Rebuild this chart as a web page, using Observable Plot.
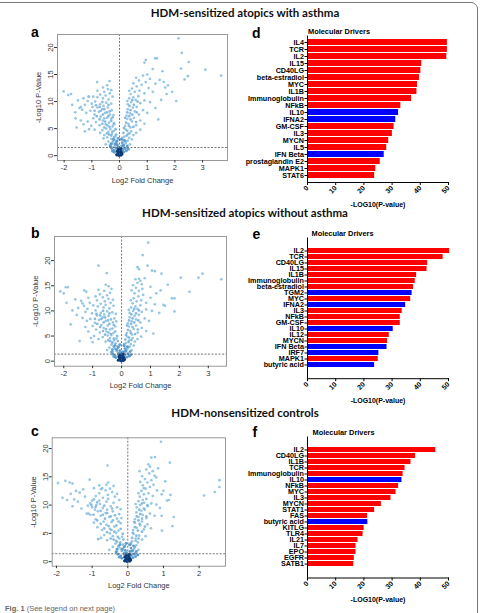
<!DOCTYPE html>
<html><head><meta charset="utf-8">
<script src="https://cdn.jsdelivr.net/npm/d3@7"></script>
<script src="https://cdn.jsdelivr.net/npm/@observablehq/plot@0.6"></script>
<style>
body{margin:0;background:#fff;}
#root{position:relative;width:482px;height:613px;overflow:hidden;background:#fff;font-family:"Liberation Sans",Arial,sans-serif;}
.box{position:absolute;left:-6px;top:2px;width:482px;height:700px;border:1px solid #777;border-radius:7px;}
.head{position:absolute;left:0;width:490px;text-align:center;font-family:Lato,"Open Sans",sans-serif;font-weight:700;font-size:11.5px;line-height:14px;color:#111;}
.let{position:absolute;font-weight:700;font-size:14px;line-height:14px;color:#000;}
.md{position:absolute;font-weight:700;font-size:7.4px;line-height:9px;color:#000;}
.pl{position:absolute;}
.cap{position:absolute;left:5px;top:604px;font-size:7.5px;line-height:9px;color:#666;}
</style></head>
<body><div id="root">
<div class="box"></div>
<div class="head" style="top:6px">HDM-sensitized atopics with asthma</div>
<div class="head" style="top:206px">HDM-sensitized atopics without asthma</div>
<div class="head" style="top:406px">HDM-nonsensitized controls</div>
<div class="let" style="left:31px;top:25px">a</div>
<div class="let" style="left:31px;top:226px">b</div>
<div class="let" style="left:31px;top:424px">c</div>
<div class="let" style="left:252px;top:26px">d</div>
<div class="let" style="left:252.5px;top:227px">e</div>
<div class="let" style="left:252.5px;top:425px">f</div>
<div class="md" style="left:308px;top:26.5px">Molecular Drivers</div>
<div class="md" style="left:311.5px;top:228.5px">Molecular Drivers</div>
<div class="md" style="left:312.5px;top:428px">Molecular Drivers</div>
<div class="cap"><b>Fig. 1</b> (See legend on next page)</div>
</div>
<script>
// ---------- Bar chart data ----------
const dNames = ["IL4","TCR","IL2","IL15","CD40LG","beta-estradiol","MYC","IL1B","Immunoglobulin","NFkB","IL10","IFNA2","GM-CSF","IL3","MYCN","IL5","IFN Beta","prostaglandin E2","MAPK1","STAT6"];
const dValues = [49.6,49.6,49.4,40.5,40.2,39.7,39.0,38.8,36.9,33.1,32.3,31.3,30.7,30.1,28.8,28.1,27.2,25.8,24.2,23.8];
const dBlue = ["IL10","IFNA2","IFN Beta"];

const eNames = ["IL2","TCR","CD40LG","IL15","IL1B","Immunoglobulin","beta-estradiol","TGM2","MYC","IFNA2","IL3","NFkB","GM-CSF","IL10","IL12","MYCN","IFN Beta","IRF7","MAPK1","butyric acid"];
const eValues = [50.4,48.1,42.6,42.4,38.7,38.2,37.6,37.1,36.6,34.8,33.6,32.9,32.9,30.4,29.0,28.4,28.2,25.3,25.1,23.8];
const eBlue = ["TGM2","IFNA2","IL10","IFN Beta","IRF7","butyric acid"];

const fNames = ["IL2","CD40LG","IL1B","TCR","Immunoglobulin","IL10","NFkB","MYC","IL3","MYCN","STAT1","FAS","butyric acid","KITLG","TLR4","IL21","IL7","EPO","EGFR","SATB1"];
const fValues = [45.5,38.3,36.7,34.6,33.9,33.5,32.3,31.4,29.6,26.2,23.8,21.3,21.4,20.1,19.7,17.9,17.2,17.2,16.6,16.4];
const fBlue = ["IL10","butyric acid"];

const barTicks = [0,10,20,30,40,50];

// ---------- Volcano data [log2FC, -log10 p] ----------
const aLight = [
[-0.32,1.8],[-0.25,2.2],[-0.4,2.6],[-0.18,2.9],[-0.3,3.1],[-0.5,2.1],[-0.22,1.6],[-0.45,3.4],[-0.12,2.4],[-0.35,2.0],
[-0.55,3.8],[-0.28,4.0],[-0.4,4.4],[-0.62,4.7],[-0.2,4.6],[-0.48,5.0],[-0.15,3.6],[-0.7,4.2],[-0.33,4.9],[-0.9,4.8],[-1.1,4.9],[-0.58,3.2],
[-0.25,5.4],[-0.5,5.8],[-0.72,5.6],[-0.38,6.1],[-0.6,6.5],[-0.85,6.2],[-0.3,6.8],[-0.45,7.0],[-0.95,6.9],[-1.15,6.3],[-0.2,6.0],[-0.68,7.2],[-1.3,5.8],[-1.02,5.5],[-0.55,6.9],
[-0.35,7.6],[-0.52,7.9],[-0.75,8.1],[-0.9,7.6],[-0.28,8.4],[-0.62,8.6],[-1.05,8.3],[-0.42,8.9],[-0.8,8.9],[-1.2,7.9],[-1.35,8.5],[-0.22,7.5],[-0.98,9.0],[-0.58,9.2],
[-0.3,9.6],[-0.48,9.8],[-0.7,9.5],[-0.88,10.0],[-1.0,9.6],[-0.4,10.4],[-0.6,10.6],[-0.8,10.8],[-1.15,10.1],[-0.25,10.9],[-1.4,9.0],[-0.5,11.1],[-0.95,10.9],[-1.25,9.4],
[-0.35,11.5],[-0.55,11.8],[-0.7,11.3],[-0.42,12.3],[-0.6,12.6],[-0.3,12.1],[-0.8,12.0],[-1.1,10.9],[-0.81,13.6],[-0.36,13.8],[-0.45,13.0],
[-2.02,11.9],[-1.85,11.2],[-1.75,11.4],[-1.71,9.4],[-1.59,6.9],[-1.45,8.8],[-1.6,8.0],[-1.5,10.2],[-1.3,10.6],[-1.12,10.9],[-1.55,5.2],[-1.25,4.5],[-1.4,6.5],
[0.15,1.7],[0.22,2.3],[0.3,2.8],[0.12,2.9],[0.38,2.1],[0.25,1.5],[0.45,3.0],
[0.18,3.5],[0.3,4.0],[0.42,4.5],[0.22,4.8],[0.5,3.8],[0.6,4.2],[0.35,3.3],[0.75,4.8],
[0.2,5.5],[0.32,5.9],[0.45,6.3],[0.6,5.6],[0.28,6.8],[0.75,6.5],[0.52,7.0],[0.9,5.9],[0.4,5.2],
[0.25,7.4],[0.38,7.8],[0.55,8.2],[0.7,7.6],[0.3,8.6],[0.85,8.4],[0.48,8.9],[1.0,7.9],[0.62,9.0],
[0.3,9.5],[0.42,9.9],[0.58,10.3],[0.75,9.7],[0.35,10.6],[0.9,10.2],[0.5,10.8],[1.1,9.9],[0.68,11.0],[0.28,10.1],
[0.4,11.4],[0.55,11.8],[0.72,12.0],[0.9,11.5],[0.45,12.4],[1.05,12.5],[0.62,12.8],[0.35,12.0],[1.2,11.8],[0.8,13.1],
[0.5,13.4],[0.7,13.9],[0.95,13.6],[1.1,14.2],[0.6,14.4],[1.3,13.3],[0.85,14.8],[1.45,14.0],[1.0,15.0],[1.6,13.6],[1.75,13.0],
[0.9,17.2],[0.95,17.7],[1.29,18.0],[1.35,18.0],[1.55,15.6],[1.2,16.0],[1.9,11.8],[1.7,11.4],[1.4,6.7],[1.5,10.3],[1.3,8.8],[1.65,12.6],
[2.13,21.7],[2.25,19.0],[2.5,17.3],[2.22,16.1],[3.1,15.9],[3.67,14.8],[2.35,14.1],[2.47,14.7],[2.05,10.1]
];
const aDense = [
[-0.1,1.2],[-0.16,1.9],[-0.24,2.6],[-0.08,2.8],[-0.2,3.4],[-0.3,3.7],[-0.12,3.9],[-0.38,3.9],[-0.26,4.4],[-0.45,4.1],[-0.14,4.9],[-0.36,5.3],[-0.55,5.2],[-0.2,5.8],[-0.44,5.6],[-0.62,5.9],[-0.3,6.4],[-0.52,6.3],[-0.72,6.7],[-0.4,7.3],[-0.6,7.6],[-0.25,7.1],[-0.82,7.3],[-0.45,8.0],[-0.68,8.3],[-0.35,8.2],[-0.55,8.6],[-0.9,8.3],[-0.72,9.0],[-0.4,9.4],[-0.62,9.9],[-0.85,9.3],
[0.1,1.3],[0.16,2.0],[0.24,2.6],[0.1,3.3],[0.26,3.7],[0.14,4.2],[0.36,4.1],[0.28,4.6],[0.16,5.1],[0.34,5.5],[0.5,5.3],[0.24,6.1],[0.4,6.7],[0.6,6.2],[0.2,7.0],[0.35,7.3],[0.46,7.6],[0.62,8.0],[0.28,8.0],[0.4,8.4],[0.52,9.4],[0.36,9.2],[0.65,10.0],[0.46,10.3]
];
const aMid = [[-0.2,1.0],[-0.12,1.4],[-0.28,1.3],[0.12,1.1],[0.2,1.3],[0.08,1.8],[-0.08,2.0],[-0.18,0.6],[0.16,0.7],[-0.1,2.6],[0.1,2.4],[0.05,0.9],[-0.05,1.6],[0.25,0.9],[-0.25,0.8],[0.14,1.9],[-0.15,2.2],[-0.22,3.0],[0.18,2.8],[-0.3,2.2],[0.28,1.8],[-0.05,3.2],[0.06,3.0],[-0.33,1.7],[0.32,1.2]];
const aCore = [[0,0.2],[0.03,0.4],[-0.03,0.5],[0.05,0.1],[-0.06,0.3],[0,0.7],[0.07,0.6],[-0.08,0.8],[0.02,1.0],[-0.02,0.05],[0.09,0.3],[-0.1,0.15],[0.04,1.3],[-0.04,1.1]];

const bLight = [
[-0.3,1.9],[-0.22,2.4],[-0.42,2.7],[-0.15,3.0],[-0.35,3.3],[-0.5,2.2],[-0.12,1.7],[-0.28,2.9],
[-0.55,3.9],[-0.25,4.2],[-0.4,4.6],[-0.65,4.8],[-0.18,4.5],[-0.48,5.1],[-0.8,4.4],[-0.32,3.6],[-0.95,5.0],
[-0.28,5.6],[-0.52,5.9],[-0.75,5.7],[-0.4,6.3],[-0.62,6.6],[-0.88,6.3],[-0.22,6.9],[-0.48,7.1],[-1.0,7.0],[-0.7,7.2],[-1.15,5.9],[-0.35,5.2],
[-0.3,7.7],[-0.55,8.0],[-0.78,8.2],[-0.92,7.6],[-0.25,8.5],[-0.65,8.7],[-1.08,8.4],[-0.45,9.0],[-0.85,9.1],[-1.2,8.0],[-0.18,7.9],[-0.6,9.3],
[-0.32,9.7],[-0.5,9.9],[-0.72,9.6],[-0.9,10.1],[-1.02,9.5],[-0.42,10.5],[-0.62,10.7],[-0.82,10.9],[-1.18,10.4],[-0.28,11.0],[-0.55,11.2],[-0.98,11.1],[-1.25,9.8],[-0.2,9.4],
[-0.38,11.6],[-0.58,11.9],[-0.72,11.4],[-0.45,12.4],[-0.65,12.7],[-0.3,12.2],[-0.85,12.1],[-1.1,11.6],[-0.9,12.9],[-0.5,13.1],[-0.75,13.3],
[-0.4,13.6],[-0.6,14.0],[-0.35,14.4],[-0.55,15.2],[-0.8,14.2],[-0.45,14.9],
[-0.8,19.0],[-0.51,17.5],
[-2.12,13.9],[-2.0,13.5],[-1.93,14.7],[-1.86,14.7],[-1.9,11.6],[-1.76,7.3],[-1.45,4.0],[-1.29,14.1],[-1.22,13.8],[-1.35,11.5],[-1.4,12.0],[-1.3,11.0],[-1.06,4.6],[-1.0,3.8],[-1.6,12.3],[-1.5,10.6],[-1.55,9.2],[-1.35,8.6],[-1.25,6.8],[-1.7,10.1],[-1.15,12.6],
[0.12,1.8],[0.2,2.4],[0.28,2.9],[0.1,3.0],[0.35,2.2],[0.22,1.6],[0.42,3.1],
[0.15,3.6],[0.26,4.1],[0.38,4.6],[0.2,4.9],[0.46,3.9],[0.55,4.4],[0.32,3.4],[0.68,4.9],
[0.18,5.6],[0.3,6.0],[0.42,6.4],[0.56,5.7],[0.25,6.9],[0.7,6.6],[0.5,7.1],[0.85,6.0],[0.36,5.3],
[0.22,7.5],[0.35,7.9],[0.5,8.3],[0.65,7.7],[0.28,8.7],[0.8,8.5],[0.45,9.0],[0.95,8.0],[0.6,9.2],
[0.28,9.6],[0.4,10.0],[0.55,10.4],[0.7,9.8],[0.33,10.7],[0.85,10.3],[0.48,10.9],[1.05,10.0],[0.65,11.1],[0.25,10.2],
[0.38,11.5],[0.52,11.9],[0.68,12.1],[0.85,11.6],[0.42,12.5],[1.0,12.6],[0.58,12.9],[0.32,12.1],[1.15,11.3],[0.75,13.2],
[0.45,13.5],[0.6,14.0],[0.5,14.6],[0.72,14.4],[0.4,15.1],[0.55,15.6],[0.65,16.0],[0.48,16.3],[0.7,15.3],[0.35,14.1],[0.8,16.5],[0.6,16.4],
[0.92,23.6],[0.73,21.1],[0.9,19.0],[1.05,18.0],[1.15,17.9],[1.38,17.4],[0.55,18.7],[0.6,18.3],[1.6,15.2],[1.35,14.1],[1.5,11.0],[1.45,11.2],[1.1,5.5],[1.2,13.5],[1.3,9.6],[1.0,14.8],
[2.05,16.6],[2.66,16.6],[2.8,17.4],[3.45,16.3],[2.35,13.8],[1.74,12.5],[1.83,12.5],[1.83,9.9]
];
const bDense = [
[-0.11,1.3],[-0.17,2.0],[-0.25,2.7],[-0.09,2.9],[-0.21,3.5],[-0.32,3.8],[-0.13,4.0],[-0.4,4.0],[-0.27,4.5],[-0.46,4.2],[-0.15,5.0],[-0.37,5.4],[-0.57,5.3],[-0.22,5.9],[-0.45,5.7],[-0.64,6.0],[-0.32,6.5],[-0.54,6.4],[-0.74,6.8],[-0.42,7.4],[-0.62,7.7],[-0.27,7.2],[-0.84,7.4],[-0.47,8.1],[-0.7,8.4],[-0.37,8.3],[-0.57,8.7],[-0.92,8.4],[-0.74,9.1],[-0.42,9.5],[-0.64,10.0],[-0.87,9.4],
[0.09,1.4],[0.15,2.1],[0.22,2.7],[0.09,3.4],[0.24,3.8],[0.13,4.3],[0.34,4.2],[0.26,4.7],[0.15,5.2],[0.32,5.6],[0.47,5.4],[0.22,6.2],[0.38,6.8],[0.56,6.3],[0.19,7.1],[0.33,7.4],[0.44,7.7],[0.58,8.1],[0.26,8.1],[0.38,8.5],[0.5,9.5],[0.34,9.3],[0.6,10.1],[0.44,10.4]
];
const bMid = [[-0.22,1.1],[-0.1,1.5],[-0.3,1.4],[0.1,1.2],[0.22,1.4],[0.06,1.9],[-0.06,2.1],[-0.2,0.7],[0.18,0.8],[-0.12,2.7],[0.12,2.5],[0.04,1.0],[-0.04,1.7],[0.27,1.0],[-0.27,0.9],[0.15,2.0],[-0.17,2.3],[-0.24,3.1],[0.2,2.9],[-0.32,2.3],[0.3,1.9],[-0.06,3.3],[0.08,3.1],[-0.35,1.8],[0.33,1.3]];
const bCore = [[0,0.3],[0.04,0.5],[-0.04,0.6],[0.06,0.15],[-0.07,0.35],[0,0.8],[0.08,0.7],[-0.09,0.9],[0.02,1.1],[-0.02,0.1],[0.1,0.35],[-0.11,0.2],[0.05,1.4],[-0.05,1.2]];

const cLight = [
[-0.3,1.8],[-0.2,2.3],[-0.42,2.6],[-0.14,3.0],[-0.35,3.2],[-0.52,2.1],[-0.1,1.6],[-0.26,2.8],
[-0.58,3.8],[-0.24,4.1],[-0.42,4.5],[-0.66,4.7],[-0.16,4.4],[-0.5,5.0],[-0.75,4.2],[-0.3,3.5],[-0.83,4.0],
[-0.26,5.5],[-0.5,5.8],[-0.72,5.6],[-0.38,6.2],[-0.6,6.5],[-0.85,6.1],[-0.2,6.8],[-0.46,7.0],[-0.95,6.9],[-0.68,7.1],[-0.33,5.1],
[-0.3,7.6],[-0.52,7.9],[-0.76,8.1],[-0.9,7.5],[-0.24,8.4],[-0.62,8.6],[-1.05,8.3],[-0.42,8.9],[-0.84,8.9],[-1.1,8.5],[-0.18,7.7],[-0.58,9.2],
[-0.3,9.6],[-0.48,9.8],[-0.7,9.5],[-0.88,10.0],[-1.0,9.6],[-0.4,10.4],[-0.6,10.6],[-0.8,10.8],[-1.05,10.3],[-0.24,10.9],[-0.55,11.1],[-0.95,11.0],[-1.12,9.9],[-0.2,9.3],[-0.92,9.2],[-0.78,10.2],[-1.0,10.8],
[-0.36,11.5],[-0.56,11.8],[-0.7,11.3],[-0.44,12.3],[-0.62,12.6],[-0.3,12.0],[-0.8,12.1],[-0.9,11.6],[-0.5,12.9],[-0.72,13.0],
[-0.6,13.6],[-0.75,12.8],[-0.95,13.0],[-0.8,13.5],[-0.4,13.4],[-0.55,14.0],
[-0.57,17.0],
[-1.96,13.9],[-1.75,14.3],[-1.63,14.0],[-1.55,13.8],[-1.07,14.5],[-1.83,11.3],[-1.55,9.8],[-1.4,10.6],[-1.35,12.2],[-1.25,12.8],[-1.6,12.0],[-1.15,8.5],[-0.83,4.0],[-1.5,11.0],[-1.3,9.4],[-1.2,11.5],[-1.45,12.5],[-1.7,10.9],
[0.1,1.8],[0.18,2.3],[0.24,2.9],[0.08,3.0],[0.3,2.1],[0.2,1.5],
[0.12,3.6],[0.22,4.1],[0.32,4.6],[0.16,4.9],[0.4,3.9],[0.28,3.4],[0.5,4.5],
[0.15,5.6],[0.25,6.0],[0.35,6.4],[0.45,5.7],[0.2,6.9],[0.55,6.6],[0.4,7.1],[0.65,5.9],
[0.2,7.5],[0.3,7.9],[0.42,8.3],[0.52,7.7],[0.24,8.7],[0.62,8.5],[0.38,9.0],[0.75,8.1],[0.48,9.2],
[0.25,9.6],[0.35,10.0],[0.46,10.4],[0.56,9.8],[0.3,10.7],[0.66,10.3],[0.42,10.9],[0.8,10.1],[0.52,11.1],[0.22,10.2],
[0.34,11.5],[0.45,11.9],[0.58,12.1],[0.7,11.6],[0.38,12.5],[0.82,12.6],[0.5,12.9],[0.3,12.1],[0.62,13.2],[0.95,11.9],
[0.42,13.5],[0.55,14.0],[0.48,14.6],[0.66,14.4],[0.4,15.1],[0.6,15.6],[0.7,16.0],[0.52,16.3],[0.75,15.2],[0.35,14.1],[0.8,14.9],[0.62,16.8],[0.45,13.0],[0.72,13.6],
[0.93,21.2],[0.76,18.5],[0.66,18.4],[1.18,17.5],[0.33,16.0],[0.58,17.2],[0.85,16.5],
[1.2,11.8],[1.1,10.8],[1.15,10.9],[1.29,7.9],[1.25,6.3],[0.96,5.5],[0.95,8.1],[1.0,12.5],[0.9,9.5],[1.05,14.2],
[2.57,14.4],[2.57,13.2],[2.44,12.3],[2.14,11.7]
];
const cDense = [
[-0.1,1.2],[-0.17,1.9],[-0.26,2.6],[-0.08,2.8],[-0.21,3.4],[-0.33,3.7],[-0.12,3.9],[-0.4,3.9],[-0.28,4.4],[-0.48,4.1],[-0.14,4.9],[-0.38,5.3],[-0.58,5.2],[-0.2,5.8],[-0.46,5.6],[-0.66,5.9],[-0.32,6.4],[-0.54,6.3],[-0.76,6.7],[-0.42,7.3],[-0.64,7.6],[-0.26,7.1],[-0.86,7.3],[-0.48,8.0],[-0.7,8.3],[-0.36,8.2],[-0.58,8.6],[-0.96,8.3],[-0.76,9.0],[-0.44,9.4],[-0.66,9.9],[-0.9,9.7],[-1.02,10.0],[-0.86,10.5],
[0.09,1.3],[0.14,2.0],[0.2,2.6],[0.09,3.3],[0.22,3.7],[0.12,4.2],[0.3,4.1],[0.24,4.6],[0.14,5.1],[0.28,5.5],[0.4,5.3],[0.2,6.1],[0.33,6.7],[0.48,6.2],[0.18,7.0],[0.3,7.3],[0.4,7.6],[0.52,8.0],[0.25,8.0],[0.35,8.4],[0.45,9.4],[0.32,9.2],[0.55,10.0],[0.4,10.3]
];
const cMid = [[-0.2,1.0],[-0.1,1.4],[-0.28,1.3],[0.1,1.1],[0.18,1.3],[0.06,1.8],[-0.07,2.0],[-0.17,0.6],[0.15,0.7],[-0.1,2.6],[0.09,2.4],[0.04,0.9],[-0.04,1.6],[0.22,0.9],[-0.24,0.8],[0.13,1.9],[-0.15,2.2],[-0.22,3.0],[0.16,2.8],[-0.3,2.2],[0.24,1.8],[-0.05,3.2],[0.05,3.0],[-0.33,1.7],[0.28,1.2]];
const cCore = [[0,0.2],[0.03,0.4],[-0.03,0.5],[0.05,0.1],[-0.06,0.3],[0,0.7],[0.06,0.6],[-0.08,0.8],[0.02,1.0],[-0.02,0.05],[0.08,0.3],[-0.09,0.15],[0.04,1.3],[-0.04,1.1]];

const volTicksY = [0,5,10,15,20];
const thresholds = [1.5, 1.4, 1.4];

// ---------- builders ----------
function volcano(light, dense, mid, core, o) {
  const X = d => d[0], Y = d => d[1];
  return Plot.plot({
    width: o.w, height: o.h, marginLeft: o.ml, marginRight: o.mr, marginTop: o.mt, marginBottom: o.mb,
    style: {fontFamily: "Liberation Sans, Arial, sans-serif", fontSize: "7px", color: "#333", background: "transparent", overflow: "visible"},
    x: {domain: o.xd},
    y: {domain: o.yd},
    marks: [
      Plot.dot(light, {x: X, y: Y, r: 1.35, fill: "#8cc0e0", fillOpacity: 0.9}),
      Plot.dot(dense, {x: X, y: Y, r: 1.35, fill: "#7ab3da", fillOpacity: 0.9}),
      Plot.dot(mid, {x: X, y: Y, r: 1.45, fill: "#4f93c8", fillOpacity: 0.9}),
      Plot.dot(core, {x: X, y: Y, r: 1.6, fill: "#0b3a78"}),
      Plot.ruleX([0], {stroke: "#555", strokeDasharray: "2,1.5", strokeWidth: 0.8}),
      Plot.ruleY([o.thr], {stroke: "#555", strokeDasharray: "2,1.5", strokeWidth: 0.8}),
      Plot.frame({stroke: "#999"}),
      Plot.axisX({ticks: o.xt, tickSize: 2.5, tickPadding: 2, tickFormat: d => String(d),
        label: "Log2 Fold Change", labelAnchor: "center", labelOffset: 22, labelArrow: "none", fontSize: 7.5}),
      Plot.axisY({ticks: volTicksY, tickSize: 3, tickPadding: 1.5, tickRotate: -90, tickFormat: d => String(d),
        label: "-Log10 P-Value", labelAnchor: "center", labelOffset: 22, labelArrow: "none", fontSize: 7.5})
    ]
  });
}

function bars(names, values, blue, o) {
  const data = names.map((n, i) => ({name: n, v: values[i], c: blue.includes(n) ? "#0000ff" : "#ff0000"}));
  return Plot.plot({
    width: 240, height: o.h, marginLeft: 77, marginRight: 22, marginTop: o.mt, marginBottom: 30,
    style: {fontFamily: "Liberation Sans, Arial, sans-serif", fontSize: "7px", fontWeight: "bold", color: "#000", background: "transparent", overflow: "visible"},
    color: {type: "identity"},
    x: {domain: [0, 50]},
    y: {domain: names, padding: 0.15},
    marks: [
      Plot.barX(data, {x: "v", y: "name", fill: "c"}),
      Plot.ruleX([0], {stroke: "#000", strokeWidth: 1}),
      Plot.frame({anchor: "bottom", stroke: "#000", strokeWidth: 1}),
      Plot.axisY({tickSize: 2.5, tickPadding: 1, label: null, fontWeight: "bold", fontSize: 7.2}),
      Plot.axisX({ticks: barTicks, tickSize: 3, tickRotate: -45, tickPadding: 1.5, tickFormat: d => String(d), fontWeight: "bold", fontSize: 7,
        label: "-LOG10(P-value)", labelAnchor: "center", labelOffset: 24, labelArrow: "none"})
    ]
  });
}

function place(el, left, top) {
  const w = document.createElement("div");
  w.className = "pl"; w.style.left = left + "px"; w.style.top = top + "px";
  w.appendChild(el); document.getElementById("root").appendChild(w);
}

place(volcano(aLight, aDense, aMid, aCore, {w: 220, h: 166, ml: 43, mr: 7, mt: 8, mb: 32, xd: [-2.24, 3.9], yd: [-0.9, 22.4], xt: [-2,-1,0,1,2,3], thr: thresholds[0]}), 14, 26);
place(volcano(bLight, bDense, bMid, bCore, {w: 220, h: 166, ml: 40, mr: 8, mt: 8, mb: 28.3, xd: [-2.32, 3.63], yd: [-1.0, 24.8], xt: [-2,-1,0,1,2,3], thr: thresholds[1]}), 14, 228);
place(volcano(cLight, cDense, cMid, cCore, {w: 220, h: 168, ml: 37.7, mr: 9, mt: 9.3, mb: 30.3, xd: [-2.12, 2.74], yd: [-0.8, 21.9], xt: [-2,-1,0,1,2], thr: thresholds[2]}), 14, 428);

place(bars(dNames, dValues, dBlue, {h: 186, mt: 9.6}), 230, 26);
place(bars(eNames, eValues, eBlue, {h: 180.2, mt: 9.5}), 230, 228);
place(bars(fNames, fValues, fBlue, {h: 180.5, mt: 9.5}), 230, 427);
</script>
</body></html>
